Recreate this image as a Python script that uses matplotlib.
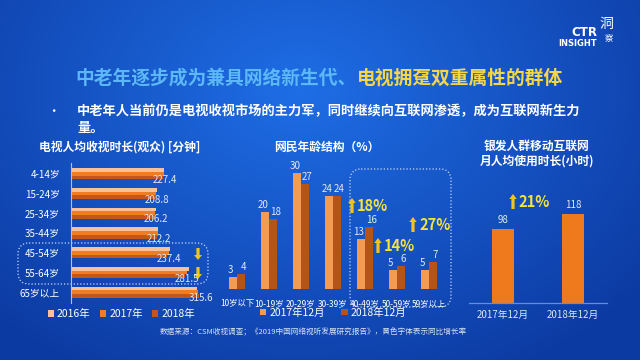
import numpy as np
import matplotlib.pyplot as plt
from matplotlib.patches import FancyBboxPatch

plt.rcParams['font.family'] = ['Noto Sans CJK SC', 'DejaVu Sans']

# --- data ---
tv_groups = ['4-14岁', '15-24岁', '25-34岁', '35-44岁', '45-54岁', '55-64岁', '65岁以上']
tv_2016 = [230.5, 212.0, 208.5, 215.0, 244.0, 290.0, 311.0]
tv_2017 = [229.0, 210.5, 207.0, 213.5, 241.0, 286.0, 314.0]
tv_2018 = [227.4, 208.8, 206.2, 212.2, 237.4, 281.5, 315.6]
tv_years = ['2016年', '2017年', '2018年']

net_groups = ['10岁以下', '10-19岁', '20-29岁', '30-39岁', '40-49岁', '50-59岁', '59岁以上']
net_2017 = [3, 20, 30, 24, 13, 5, 5]
net_2018 = [4, 18, 27, 24, 16, 6, 7]
net_series = ['2017年12月', '2018年12月']
net_growth = ['18%', '14%', '27%']

silver_months = ['2017年12月', '2018年12月']
silver_hours = [98, 118]
silver_growth = '21%'

W, H = 640, 360
fig = plt.figure(figsize=(6.4, 3.6), dpi=100)

def box(l, t, r, b):
    # pixel box -> figure fraction
    return [l / W, 1 - b / H, (r - l) / W, (b - t) / H]

# background gradient, also used as a pixel-coordinate overlay
bg = fig.add_axes([0, 0, 1, 1], zorder=0)
yy, xx = np.mgrid[0:H, 0:W]
d = np.clip(np.sqrt(((xx - 300) / 430.0) ** 2 + ((yy - 90) / 320.0) ** 2), 0, 1)
inner = np.array([0.12, 0.43, 0.90])
outer = np.array([0.05, 0.23, 0.64])
img = inner * (1 - d)[..., None] + outer * d[..., None]
bg.imshow(img, extent=(0, W, H, 0), aspect='auto')
bg.set_xlim(0, W)
bg.set_ylim(H, 0)
bg.axis('off')

# header
bg.text(75, 78, '中老年逐步成为兼具网络新生代、', color='#5cb8f7', fontsize=13.5,
        fontweight='bold', va='center')
bg.text(357, 78, '电视拥趸双重属性的群体', color='#f4d648', fontsize=13.5,
        fontweight='bold', va='center')
bg.text(53, 111, '•', color='white', fontsize=9, va='center', ha='center')
bg.text(77, 111, '中老年人当前仍是电视收视市场的主力军，同时继续向互联网渗透，成为互联网新生力',
        color='white', fontsize=9.5, fontweight='bold', va='center')
bg.text(77, 128, '量。', color='white', fontsize=9.5, fontweight='bold', va='center')

# logo
bg.text(597, 33, 'CTR', color='white', fontsize=8.5, fontweight='bold', ha='right', va='center',
        family=['DejaVu Sans'])
bg.text(597, 44, 'INSIGHT', color='white', fontsize=6, fontweight='bold', ha='right', va='center',
        family=['DejaVu Sans'])
bg.text(606, 24, '洞', color='white', fontsize=10, ha='center', va='center')
bg.text(609, 38, '察', color='white', fontsize=6, ha='center', va='center')

# chart titles
bg.text(120, 147, '电视人均收视时长(观众) [分钟]', color='white', fontsize=8.5,
        fontweight='bold', ha='center', va='center')
bg.text(327, 147, '网民年龄结构（%）', color='white', fontsize=8.5,
        fontweight='bold', ha='center', va='center')
bg.text(537, 146, '银发人群移动互联网', color='white', fontsize=8.5,
        fontweight='bold', ha='center', va='center')
bg.text(537, 161, '月人均使用时长(小时)', color='white', fontsize=8.5,
        fontweight='bold', ha='center', va='center')

bg.text(313, 332, '数据来源：CSM收视调查；《2019中国网络视听发展研究报告》，黄色字体表示同比增长率',
        color='#d8e2f2', fontsize=5.5, ha='center', va='center')

# dotted highlight boxes
for x0, y0, x1, y1 in [(18, 243, 208, 284), (350, 169, 451, 307)]:
    bg.add_patch(FancyBboxPatch((x0, y0), x1 - x0, y1 - y0,
                                boxstyle='round,pad=0,rounding_size=11',
                                fill=False, ec='#c9d8f3', lw=0.9, ls=(0, (1, 1.6))))

arrow_c = '#f2c21e'
yellow = '#f4e33c'
# down arrows, left chart
for y in [248, 267]:
    bg.arrow(198, y, 0, 12, width=3.2, head_width=8, head_length=5,
             length_includes_head=True, color=arrow_c, lw=0)
# up arrows with growth labels
for (ax_, ay), (tx, ty), lab in zip([(352, 213), (378, 253), (413, 232)],
                                    [(357, 206), (384, 246), (419, 225)], net_growth):
    bg.arrow(ax_, ay, 0, -15, width=3.2, head_width=7.5, head_length=5,
             length_includes_head=True, color=arrow_c, lw=0)
    bg.text(tx, ty, lab, color=yellow, fontsize=10.5, fontweight='bold', va='center')
bg.arrow(513, 209, 0, -15, width=3.2, head_width=7.5, head_length=5,
         length_includes_head=True, color=arrow_c, lw=0)
bg.text(518, 202, silver_growth, color=yellow, fontsize=10.5, fontweight='bold', va='center')

label_c = '#e2e9f5'

# --- left: TV viewing time ---
ax1 = fig.add_axes(box(71, 163, 215, 303), zorder=2)
ax1.patch.set_alpha(0)
pos = np.arange(len(tv_groups))
h = 0.19
tv_colors = ['#f7c29a', '#ef7d24', '#c4561a']
for k, (vals, c) in enumerate(zip([tv_2016, tv_2017, tv_2018], tv_colors)):
    ax1.barh(pos + (k - 1) * h, vals, height=h, color=c, label=tv_years[k])
for i, v in enumerate(tv_2018):
    ax1.text(v + 4, pos[i] + h + 0.12, f'{v:.1f}', color=label_c, fontsize=7,
             ha='center', va='center')
ax1.set_ylim(6.55, -0.55)
ax1.set_xlim(0, 355)
ax1.set_yticks(pos)
ax1.set_yticklabels(tv_groups, color='white', fontsize=7)
ax1.set_xticks([])
ax1.tick_params(axis='y', length=0, pad=8)
for s in ['top', 'right', 'bottom']:
    ax1.spines[s].set_visible(False)
ax1.spines['left'].set_color('#a8c2ee')
ax1.spines['left'].set_linewidth(0.8)
ax1.legend(loc='center', bbox_to_anchor=(0.35, -0.08), ncol=3, frameon=False,
           handlelength=0.6, handleheight=0.6, handletextpad=0.3, columnspacing=0.9,
           fontsize=7.5, labelcolor='white')

# --- middle: netizen age structure ---
ax2 = fig.add_axes(box(221, 165, 445, 289), zorder=2)
ax2.patch.set_alpha(0)
x = np.arange(len(net_groups))
bw = 0.25
ax2.bar(x - bw / 2, net_2017, width=bw, color='#f29b52', label=net_series[0])
ax2.bar(x + bw / 2, net_2018, width=bw, color='#b5531b', label=net_series[1])
for i in range(len(x)):
    ax2.text(x[i] - bw / 2 - 0.07, net_2017[i] + 0.5, str(net_2017[i]), color=label_c,
             fontsize=7, ha='center', va='bottom')
    ax2.text(x[i] + bw / 2 + 0.07, net_2018[i] + 0.5, str(net_2018[i]), color=label_c,
             fontsize=7, ha='center', va='bottom')
ax2.set_xlim(-0.5, 6.5)
ax2.set_ylim(0, 32)
ax2.set_xticks(x)
ax2.set_xticklabels(net_groups, color='white', fontsize=6)
ax2.set_yticks([])
ax2.tick_params(axis='x', length=0, pad=7)
for s in ax2.spines.values():
    s.set_visible(False)
ax2.legend(loc='center', bbox_to_anchor=(0.5, -0.19), ncol=2, frameon=False,
           handlelength=0.6, handleheight=0.6, handletextpad=0.3, columnspacing=1.6,
           fontsize=7.5, labelcolor='white')

# --- right: silver-haired mobile internet usage ---
ax3 = fig.add_axes(box(469, 205, 607, 303), zorder=2)
ax3.patch.set_alpha(0)
xs = np.arange(len(silver_months))
ax3.bar(xs, silver_hours, width=0.32, color='#ee7a1d')
for i, v in enumerate(silver_hours):
    ax3.text(xs[i], v + 6, str(v), color=label_c, fontsize=7, ha='center', va='bottom')
ax3.set_xlim(-0.49, 1.49)
ax3.set_ylim(0, 130)
ax3.set_xticks(xs)
ax3.set_xticklabels(silver_months, color='#dde6f5', fontsize=7)
ax3.set_yticks([])
ax3.tick_params(axis='x', length=0, pad=5)
for s in ['top', 'right', 'left']:
    ax3.spines[s].set_visible(False)
ax3.spines['bottom'].set_color('#5f8fe0')
ax3.spines['bottom'].set_linewidth(0.9)

fig.savefig('out.png', dpi=100)
